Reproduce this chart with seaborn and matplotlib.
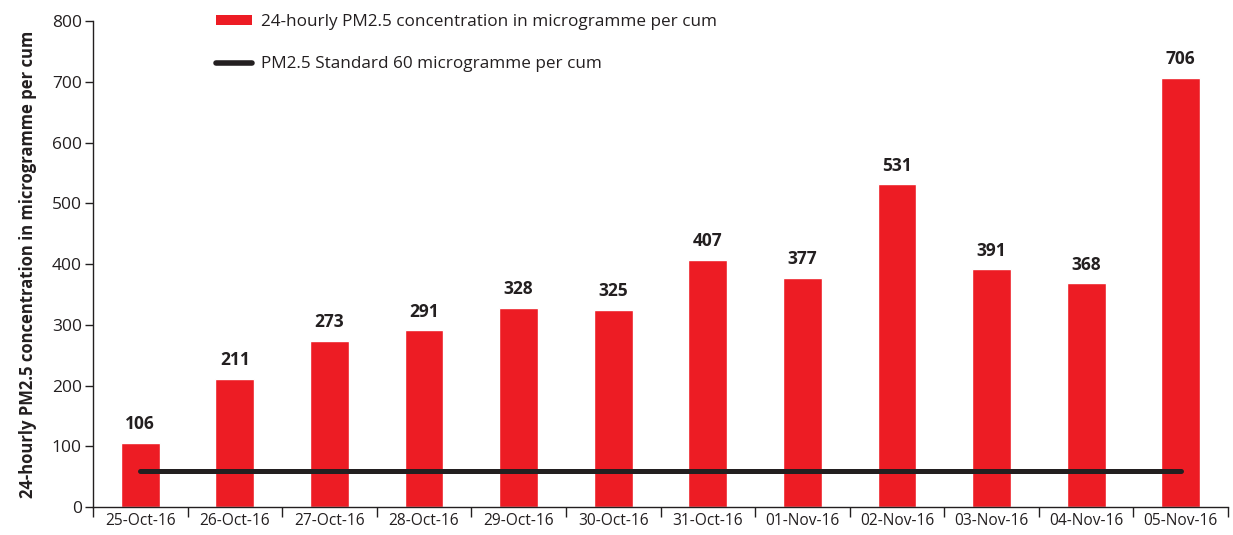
import numpy as np
import pandas as pd
import matplotlib
matplotlib.use("Agg")
import matplotlib.pyplot as plt
import seaborn as sns
from matplotlib.patches import Patch
from matplotlib.lines import Line2D

dates = ["25-Oct-16", "26-Oct-16", "27-Oct-16", "28-Oct-16", "29-Oct-16", "30-Oct-16",
         "31-Oct-16", "01-Nov-16", "02-Nov-16", "03-Nov-16", "04-Nov-16", "05-Nov-16"]
pm25 = [106, 211, 273, 291, 328, 325, 407, 377, 531, 391, 368, 706]
standard = [60] * len(dates)
yticks = [0, 100, 200, 300, 400, 500, 600, 700, 800]

red = "#ED1C24"
dark = "#231F20"

sns.set_style("ticks")
plt.rcParams["font.family"] = ["Open Sans", "DejaVu Sans"]
plt.rcParams["axes.linewidth"] = 1.0

df = pd.DataFrame({"date": dates, "pm25": pm25, "std": standard})

fig = plt.figure(figsize=(12.33, 5.35), dpi=100)
ax = fig.add_axes([0.0754, 0.0523, 0.9206, 0.9084])

sns.barplot(data=df, x="date", y="pm25", color=red, width=0.41, saturation=1, ax=ax)
sns.lineplot(x=np.arange(len(dates)), y=df["std"], color=dark, linewidth=3.6,
             solid_capstyle="round", ax=ax)

ax.bar_label(ax.containers[0], fmt="%d", padding=7, fontsize=12.5,
             fontweight="bold", color=dark)

ax.set_xlim(-0.5, len(dates) - 0.5)
ax.set_ylim(0, 800)
ax.set_yticks(yticks)
ax.tick_params(axis="y", labelsize=12.5, length=6, width=1.0, colors=dark, pad=2)

ax.set_xticks(np.arange(len(dates) + 1) - 0.5)
ax.set_xticklabels([])
ax.set_xticks(np.arange(len(dates)), minor=True)
ax.set_xticklabels(dates, minor=True)
ax.tick_params(axis="x", which="major", length=7, width=1.0, color=dark)
ax.tick_params(axis="x", which="minor", length=0, labelsize=11.2, colors=dark, pad=4)

ax.set_xlabel("")
ax.set_ylabel("24-hourly PM2.5 concentration in microgramme per cum",
              fontsize=12, fontweight="bold", color=dark, labelpad=11)

for s in ["top", "right"]:
    ax.spines[s].set_visible(False)
for s in ["left", "bottom"]:
    ax.spines[s].set_color(dark)

handles = [Patch(facecolor=red, edgecolor="none"),
           Line2D([0], [0], color=dark, linewidth=4, solid_capstyle="round")]
labels = ["24-hourly PM2.5 concentration in microgramme per cum",
          "PM2.5 Standard 60 microgramme per cum"]
fig.legend(handles, labels, loc="upper left", bbox_to_anchor=(0.163, 1.003),
           frameon=False, fontsize=12.3, handlelength=2.1, handleheight=0.55,
           handletextpad=0.5, labelspacing=1.55, labelcolor=dark)

fig.savefig("out.png", dpi=100)
